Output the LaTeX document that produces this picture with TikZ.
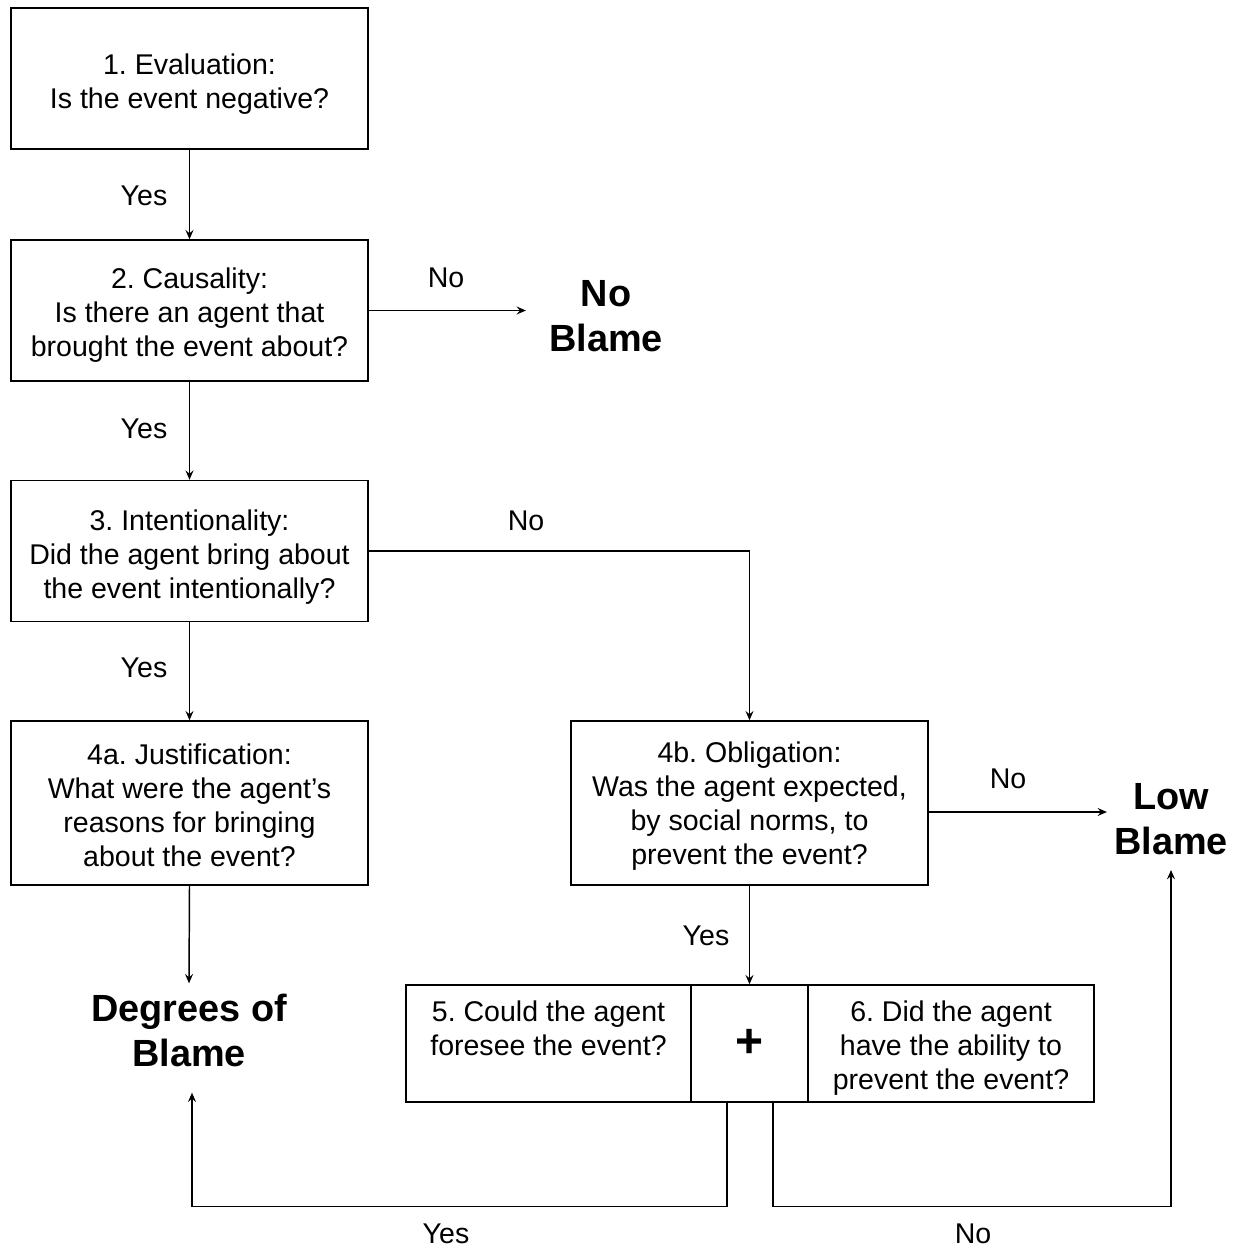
\documentclass[tikz,border=0pt]{standalone}
\usepackage{fontspec}
\setmainfont{Liberation Sans}
\usetikzlibrary{arrows.meta,calc}
\begin{document}
\frenchspacing
\begin{tikzpicture}[x=0.75pt,y=-0.75pt,
  every node/.style={font=\fontsize{21.4}{25.5}\selectfont, align=center},
  box/.style={draw, line width=1.1pt, inner sep=0pt, minimum width=267.75pt, minimum height=105.75pt},
  tallbox/.style={box, minimum height=123pt},
  part/.style={draw, line width=1.1pt, inner sep=0pt, minimum height=87.75pt},
  txt/.style={inner sep=0pt},
  big/.style={font=\fontsize{28.4}{33.75}\selectfont\bfseries, inner sep=0pt},
  lbl/.style={inner sep=0pt},
  arr/.style={line width=1.1pt, -{Stealth[length=7pt,width=6pt,inset=2.5pt]}}]
\useasboundingbox (0,0) rectangle (1235,1249);
\fill[white] (0,0) rectangle (1235,1249);

\node[box] (b1) at (189.5,78.5) {};
\node[box] (b2) at (189.5,310.5) {};
\node[box] (b3) at (189.5,551) {};
\node[tallbox] (b4a) at (189.5,803) {};
\node[tallbox] (b4b) at (749.5,803) {};
\node[txt] (b1t) at ($(b1)+(0,6)$) {1. Evaluation:\\Is the event negative?};
\node[txt] (b2t) at ($(b2)+(0,5)$) {2. Causality:\\Is there an agent that\\brought the event about?};
\node[txt] (b3t) at ($(b3)+(0,6)$) {3. Intentionality:\\Did the agent bring about\\the event intentionally?};
\node[txt] (b4at) at ($(b4a)+(0,2)$) {4a. Justification:\\What were the agent’s\\reasons for bringing\\about the event?};
\node[txt] (b4bt) at ($(b4b)+(0,3)$) {4b. Obligation:\\Was the agent expected,\\by social norms, to\\prevent the event?};

\node[part, minimum width=213.75pt] (p5) at (548.5,1043.5) {};
\node[part, minimum width=87.75pt, font=\fontsize{36}{36}\selectfont\bfseries] (pl) at (749.5,1043.5) {+};
\node[part, minimum width=214.5pt] (p6) at (951,1043.5) {};
\node[txt, anchor=north] (p5t) at ($(p5.north)+(0,16)$) {5. Could the agent\\foresee the event?};
\node[txt, anchor=north] (p6t) at ($(p6.north)+(0,16)$) {6. Did the agent\\have the ability to\\prevent the event?};

\node[big] (noblame) at (606,316) {No\\Blame};
\node[big] (lowblame) at (1171,819) {Low\\Blame};
\node[big] (degrees) at (189,1030) {Degrees of\\Blame};

\node[lbl] (y1) at (144,196) {Yes};
\node[lbl] (y2) at (144,429) {Yes};
\node[lbl] (y3) at (144,668) {Yes};
\node[lbl] (y4) at (706,936) {Yes};
\node[lbl] (y5) at (446,1234) {Yes};
\node[lbl] (n1) at (446,278) {No};
\node[lbl] (n2) at (526,521) {No};
\node[lbl] (n3) at (1008,779) {No};
\node[lbl] (n4) at (973,1234) {No};

\draw[arr] (b1) -- (b2);
\draw[arr] (b2) -- (b3);
\draw[arr] (b3) -- (b4a);
\draw[arr] (b2.east) -- ($(b2.east -| noblame.west)+(-23,0)$);
\draw[arr] (b3.east) -| (b4b.north);
\coordinate (ob) at ($(b4b.east)+(0,9)$);
\draw[arr] (ob) -- ($(ob -| lowblame.west)+(-7,0)$);
\draw[arr] (b4b.south) -- (pl.north);
\draw[arr] (b4a.south) -- ($(degrees.north)+(0,-10)$);

\coordinate (yb) at ($(pl.south)+(-22.5,0)$);
\coordinate (nb) at ($(pl.south)+(23.5,0)$);
\coordinate (yc) at ($(yb)+(0,104)$);
\coordinate (nc) at ($(nb)+(0,104)$);
\draw[arr] (yb) -- (yc) -| ($(degrees.south)+(3,26)$);
\draw[arr] (nb) -- (nc) -| ($(lowblame.south)+(0,15)$);
\end{tikzpicture}
\end{document}
